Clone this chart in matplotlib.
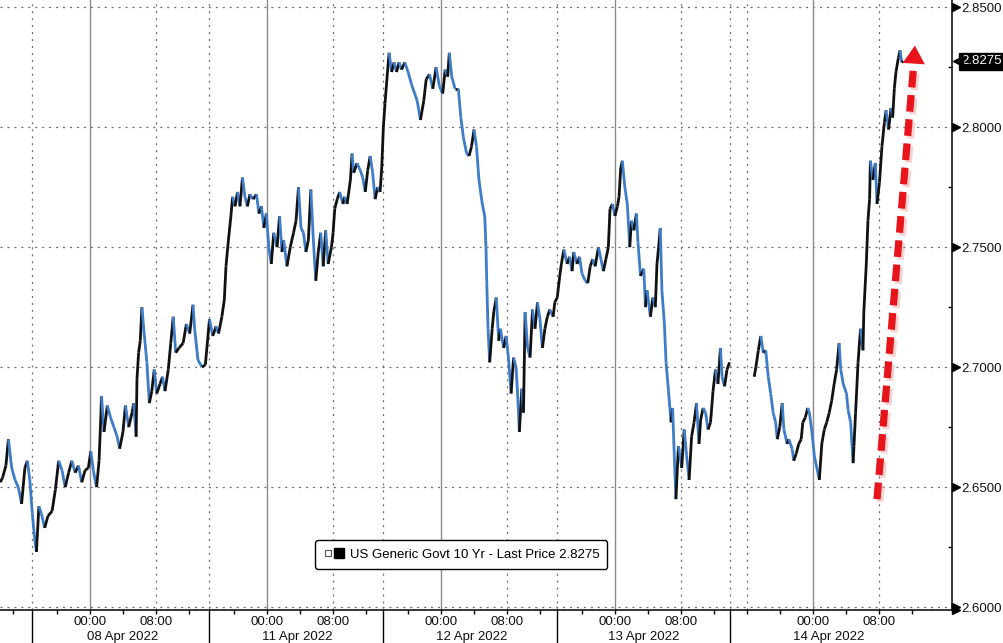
import numpy as np
import matplotlib
matplotlib.use("Agg")
import matplotlib.pyplot as plt
import matplotlib.patheffects as pe
from matplotlib.collections import LineCollection
from matplotlib.lines import Line2D
from matplotlib.legend_handler import HandlerTuple

plt.rcParams['font.family'] = ['Liberation Sans', 'DejaVu Sans']
plt.rcParams['lines.scale_dashes'] = False

# x axis is trading time in hours, counted from the open of the 08 Apr session
# (weekend and overnight breaks are squeezed out, like on the terminal)
apr07_hours = [-3.9, -3.6, -3.2, -2.9, -2.5, -2.1, -1.7, -1.3, -0.9, -0.6, -0.3]
apr07_yield = [2.652, 2.654, 2.659, 2.670, 2.658, 2.653, 2.650, 2.643, 2.658, 2.661, 2.653]

apr08_hours = [0.0, 0.3, 0.5, 0.8, 1.1, 1.5, 1.9, 2.4, 2.8, 3.2, 3.6, 4.0, 4.4, 4.8, 5.2,
               5.6, 6.0, 6.4, 6.8, 7.1, 7.4, 7.8, 8.1, 8.3, 8.4, 8.7, 9.1, 9.5, 9.9, 10.3,
               10.6, 11.0, 11.3, 11.7, 12.1, 12.3, 12.6, 12.7, 12.9, 13.1, 13.3, 13.6, 13.9,
               14.2, 14.5, 14.8, 15.1, 15.5, 15.8, 16.1, 16.5, 16.8, 17.1, 17.4, 17.8, 18.3,
               18.7, 19.1, 19.5, 19.7, 20.1, 20.6, 21.0]
apr08_yield = [2.639, 2.628, 2.623, 2.642, 2.639, 2.633, 2.638, 2.640, 2.649, 2.661, 2.657,
               2.650, 2.656, 2.661, 2.656, 2.659, 2.652, 2.657, 2.658, 2.665, 2.657, 2.650,
               2.661, 2.678, 2.688, 2.673, 2.684, 2.679, 2.675, 2.671, 2.666, 2.673, 2.684,
               2.675, 2.681, 2.685, 2.671, 2.695, 2.706, 2.711, 2.725, 2.713, 2.702, 2.685,
               2.690, 2.699, 2.689, 2.693, 2.696, 2.690, 2.699, 2.710, 2.721, 2.706, 2.708,
               2.710, 2.718, 2.714, 2.726, 2.716, 2.703, 2.700, 2.701]

apr11_hours = [21.5, 21.9, 22.3, 22.6, 23.0, 23.3, 23.5, 23.8, 24.1, 24.3, 24.6, 24.9, 25.2,
               25.5, 25.8, 26.1, 26.4, 26.8, 27.2, 27.5, 27.8, 28.1, 28.4, 28.7, 29.0, 29.3,
               29.7, 30.0, 30.3, 30.5, 30.9, 31.3, 31.7, 32.0, 32.3, 32.6, 32.9, 33.2, 33.5,
               33.8, 34.1, 34.4, 34.7, 35.0, 35.3, 35.6, 35.9, 36.3, 36.5, 36.7, 37.0, 37.3,
               37.7, 37.9, 38.2, 38.6, 38.8, 39.0, 39.4, 39.8, 40.1, 40.4, 40.7, 41.0, 41.3,
               41.6, 41.9, 42.2]
apr11_yield = [2.720, 2.713, 2.717, 2.714, 2.721, 2.728, 2.742, 2.753, 2.763, 2.771, 2.767,
               2.773, 2.767, 2.779, 2.771, 2.767, 2.772, 2.770, 2.772, 2.764, 2.767, 2.758,
               2.764, 2.750, 2.743, 2.756, 2.750, 2.763, 2.748, 2.753, 2.742, 2.750, 2.756,
               2.761, 2.775, 2.758, 2.756, 2.748, 2.753, 2.774, 2.753, 2.736, 2.748, 2.756,
               2.742, 2.757, 2.743, 2.750, 2.756, 2.766, 2.770, 2.773, 2.768, 2.771, 2.768,
               2.778, 2.789, 2.781, 2.785, 2.782, 2.779, 2.773, 2.782, 2.788, 2.781, 2.770,
               2.775, 2.773]

apr12_hours = [42.4, 42.6, 42.8, 43.1, 43.3, 43.6, 43.9, 44.2, 44.5, 44.8, 45.2, 45.6, 46.0,
               46.7, 47.1, 47.5, 47.8, 48.2, 48.6, 49.0, 49.4, 49.8, 50.1, 50.4, 50.6, 50.9,
               51.3, 51.7, 52.0, 52.3, 52.7, 53.0, 53.3, 53.6, 53.9, 54.2, 54.6, 54.9, 55.05,
               55.15, 55.3, 55.5, 55.8, 56.0, 56.3, 56.6, 56.8, 57.2, 57.5, 57.8, 58.1, 58.4,
               58.7, 58.9, 59.1, 59.4, 59.6, 59.8, 60.1, 60.4, 60.7, 61.0, 61.3, 61.6, 61.9,
               62.2, 62.5, 62.8, 63.2, 63.4]
apr12_yield = [2.783, 2.800, 2.810, 2.823, 2.831, 2.823, 2.827, 2.823, 2.827, 2.824, 2.827,
               2.823, 2.818, 2.811, 2.803, 2.811, 2.820, 2.822, 2.816, 2.825, 2.817, 2.814,
               2.824, 2.821, 2.831, 2.821, 2.816, 2.816, 2.804, 2.796, 2.789, 2.788, 2.792,
               2.799, 2.792, 2.778, 2.768, 2.763, 2.750, 2.735, 2.716, 2.702, 2.716, 2.723,
               2.729, 2.711, 2.716, 2.708, 2.713, 2.703, 2.689, 2.704, 2.700, 2.688, 2.673,
               2.691, 2.681, 2.723, 2.708, 2.704, 2.724, 2.716, 2.727, 2.720, 2.708, 2.716,
               2.721, 2.724, 2.721, 2.727]

apr13_hours = [63.7, 64.0, 64.2, 64.5, 64.9, 65.2, 65.5, 65.7, 66.1, 66.4, 66.7, 67.1, 67.4,
               67.7, 68.0, 68.3, 68.7, 69.0, 69.3, 69.6, 69.9, 70.1, 70.4, 70.7, 71.0, 71.2,
               71.4, 71.6, 71.9, 72.2, 72.5, 72.7, 73.0, 73.3, 73.5, 73.8, 74.2, 74.4, 74.6,
               75.0, 75.3, 75.6, 75.8, 76.0, 76.2, 76.4, 76.7, 76.9, 77.2, 77.5, 77.7, 77.9,
               78.1, 78.4, 78.6, 78.8, 79.1, 79.4, 79.7, 80.0, 80.3, 80.6, 80.9, 81.1, 81.4,
               81.7, 82.0, 82.3, 82.6, 82.9, 83.2, 83.5, 83.7, 84.0, 84.3, 84.6]
apr13_yield = [2.729, 2.738, 2.743, 2.749, 2.743, 2.746, 2.740, 2.748, 2.743, 2.746, 2.739,
               2.736, 2.735, 2.742, 2.745, 2.742, 2.750, 2.745, 2.740, 2.745, 2.750, 2.766,
               2.768, 2.763, 2.767, 2.771, 2.783, 2.786, 2.775, 2.768, 2.750, 2.761, 2.757,
               2.764, 2.752, 2.738, 2.741, 2.725, 2.732, 2.721, 2.729, 2.725, 2.743, 2.750,
               2.758, 2.732, 2.718, 2.702, 2.690, 2.677, 2.683, 2.663, 2.645, 2.667, 2.663,
               2.658, 2.674, 2.663, 2.653, 2.671, 2.677, 2.685, 2.668, 2.678, 2.683, 2.681,
               2.674, 2.677, 2.690, 2.699, 2.693, 2.708, 2.696, 2.692, 2.699, 2.702]

apr14_hours = [87.6, 87.8, 88.1, 88.4, 88.7, 89.0, 89.3, 89.6, 89.9, 90.2, 90.4, 90.7, 91.0,
               91.2, 91.6, 91.8, 92.2, 92.4, 92.7, 93.0, 93.3, 93.5, 93.8, 94.1, 94.3, 94.6,
               94.9, 95.2, 95.5, 95.8, 96.1, 96.4, 96.7, 97.0, 97.3, 97.6, 97.9, 98.1, 98.4,
               98.8, 99.0, 99.3, 99.6, 99.7, 99.9, 100.2, 100.5, 100.8, 100.9, 101.2, 101.4,
               101.6, 101.7, 102.0, 102.3, 102.5, 102.8, 103.1, 103.4, 103.6, 103.9, 104.2,
               104.4, 104.6, 104.8, 105.1, 105.3, 105.5, 105.7]
apr14_yield = [2.696, 2.700, 2.707, 2.713, 2.706, 2.707, 2.696, 2.689, 2.681, 2.677, 2.670,
               2.675, 2.685, 2.674, 2.668, 2.670, 2.666, 2.661, 2.664, 2.668, 2.670, 2.677,
               2.679, 2.683, 2.681, 2.673, 2.663, 2.658, 2.653, 2.668, 2.674, 2.677, 2.681,
               2.686, 2.693, 2.699, 2.710, 2.699, 2.693, 2.689, 2.682, 2.677, 2.660, 2.667,
               2.681, 2.702, 2.716, 2.707, 2.723, 2.743, 2.761, 2.770, 2.786, 2.778, 2.785,
               2.768, 2.777, 2.792, 2.802, 2.807, 2.799, 2.808, 2.804, 2.816, 2.823, 2.829,
               2.832, 2.827, 2.8275]

last_price = 2.8275
series_label = "US Generic Govt 10 Yr - Last Price 2.8275"

# axis furniture (trading-time hours)
session_opens = [0.0, 21.4, 42.5, 63.7, 84.7]
apr14_open = 86.7
midnights = [7.0, 28.5, 49.6, 70.7, 94.7]
day_labels = ["08 Apr 2022", "11 Apr 2022", "12 Apr 2022", "13 Apr 2022", "14 Apr 2022"]
day_label_pos = [10.9, 32.1, 53.3, 74.2, 96.6]
y_major = [2.60, 2.65, 2.70, 2.75, 2.80, 2.85]
y_minor = [2.625, 2.675, 2.725, 2.775, 2.825]

# hand-drawn red arrow (annotation, in data units)
arrow_tail = (102.5, 2.645)
arrow_neck = (106.95, 2.826)
arrow_tip = (107.1, 2.834)

BLUE = '#3d7cc9'
RED = '#e8141c'
GRID = '#707070'

fig = plt.figure(figsize=(10.04, 6.43), dpi=100)
ax = fig.add_axes([0.0, 33 / 643, 952 / 1004, 610 / 643])
ax.set_xlim(-3.92, 111.6)
ax.set_ylim(2.5988, 2.853)

# grid
for v in y_major:
    ax.axhline(v, color=GRID, lw=0.9, ls=(0, (1.5, 3.5)), zorder=1)
eights = [m + 8 for m in midnights]
for x in session_opens + [apr14_open] + eights:
    ax.axvline(x, color=GRID, lw=0.9, ls=(0, (1.5, 3.5)), zorder=1)
for x in midnights:
    ax.axvline(x, color='#8a8a8a', lw=1.0, zorder=1)

# price line: black on up moves, blue on down moves; gap before the 14 Apr open
hours = np.concatenate([apr07_hours, apr08_hours, apr11_hours, apr12_hours,
                        apr13_hours, [np.nan], apr14_hours])
yields = np.concatenate([apr07_yield, apr08_yield, apr11_yield, apr12_yield,
                         apr13_yield, [np.nan], apr14_yield])
pts = np.column_stack([hours, yields])
segs = np.stack([pts[:-1], pts[1:]], axis=1)
keep = ~np.isnan(segs).any(axis=(1, 2))
segs = segs[keep]
falling = segs[:, 1, 1] < segs[:, 0, 1]
colors = [BLUE if f else '#111111' for f in falling]
ax.add_collection(LineCollection(segs, colors=colors, linewidths=2.0, zorder=3,
                                 capstyle='butt', joinstyle='miter'))

# red dashed arrow
shaft, = ax.plot([arrow_tail[0], arrow_neck[0]], [arrow_tail[1], arrow_neck[1]],
                 color=RED, lw=5.2, solid_capstyle='butt', dash_capstyle='butt', zorder=5)
shaft.set_dashes([12, 5.5])
shaft.set_path_effects([pe.SimpleLineShadow(offset=(2, -2), shadow_color='#f08080', alpha=0.35),
                        pe.Normal()])
ax.annotate('', xy=arrow_tip, xytext=arrow_neck, zorder=5,
            arrowprops=dict(arrowstyle='-|>,head_length=0.65,head_width=0.4',
                            color=RED, lw=0, shrinkA=0, shrinkB=0, mutation_scale=20))

# spines / axes
for s in ['top', 'left']:
    ax.spines[s].set_visible(False)
for s in ['right', 'bottom']:
    ax.spines[s].set_color('black')
    ax.spines[s].set_linewidth(1.1)

ax.yaxis.tick_right()
ax.set_yticks(y_major)
ax.set_yticklabels([f"{v:.4f}" for v in y_major])
ax.set_yticks(y_minor, minor=True)
ax.tick_params(axis='y', which='major', length=0, pad=7, labelsize=9.5, labelcolor='#111111')
ax.tick_params(axis='y', which='minor', direction='in', length=3, width=1, color='black')
ax.plot([1.0045] * len(y_major), y_major, ls='none', marker='>', ms=6, color='black',
        transform=ax.get_yaxis_transform(), clip_on=False, zorder=6)

xt = sorted(midnights + eights)
ax.set_xticks(xt)
ax.set_xticklabels(["00:00" if x in midnights else "08:00" for x in xt])
x_minor = [-2.4] + [m + d for m in midnights for d in (-4, 4, 12)] + [apr14_open]
ax.set_xticks(x_minor, minor=True)
ax.tick_params(axis='x', which='both', direction='out', length=3, width=1, color='black')
ax.tick_params(axis='x', which='major', pad=1.5, labelsize=9.5, labelcolor='#111111')
ax.plot([1.004], [0], marker='>', ms=6, color='black', transform=ax.transAxes,
        clip_on=False, zorder=6)

ax.vlines(session_opens, -0.07, 0, transform=ax.get_xaxis_transform(), color='black',
          lw=1.0, clip_on=False)
for pos, lab in zip(day_label_pos, day_labels):
    ax.text(pos, -0.0445, lab, transform=ax.get_xaxis_transform(), ha='center',
            va='center', fontsize=9.5, color='#111111')

# last price tag
ax.plot([1.0065], [last_price], ls='none', marker='<', ms=7, color='black',
        transform=ax.get_yaxis_transform(), clip_on=False, zorder=6)
ax.annotate(f"{last_price:.4f}", xy=(1.0, last_price), xycoords=ax.get_yaxis_transform(),
            xytext=(7, 0), textcoords='offset points', ha='left', va='center',
            fontsize=9.5, color='white', annotation_clip=False,
            bbox=dict(boxstyle='square,pad=0.2', fc='black', ec='black'))

# legend box
icon = Line2D([], [], marker='s', ms=4.5, mfc='white', mec='#555555', mew=0.8, ls='none')
square = Line2D([], [], marker='s', ms=6.5, color='black', ls='none')
leg = fig.legend(handles=[(icon, square)], labels=[series_label],
                 handler_map={tuple: HandlerTuple(ndivide=None, pad=0.2)},
                 loc='center', bbox_to_anchor=(0.4595, 0.1376), frameon=True,
                 fancybox=True, fontsize=9.5, handlelength=1.5, handletextpad=0.5,
                 borderpad=0.6)
leg.get_frame().set_edgecolor('black')
leg.get_frame().set_linewidth(1.0)
leg.get_frame().set_alpha(1.0)

fig.savefig('out.png', dpi=100)
